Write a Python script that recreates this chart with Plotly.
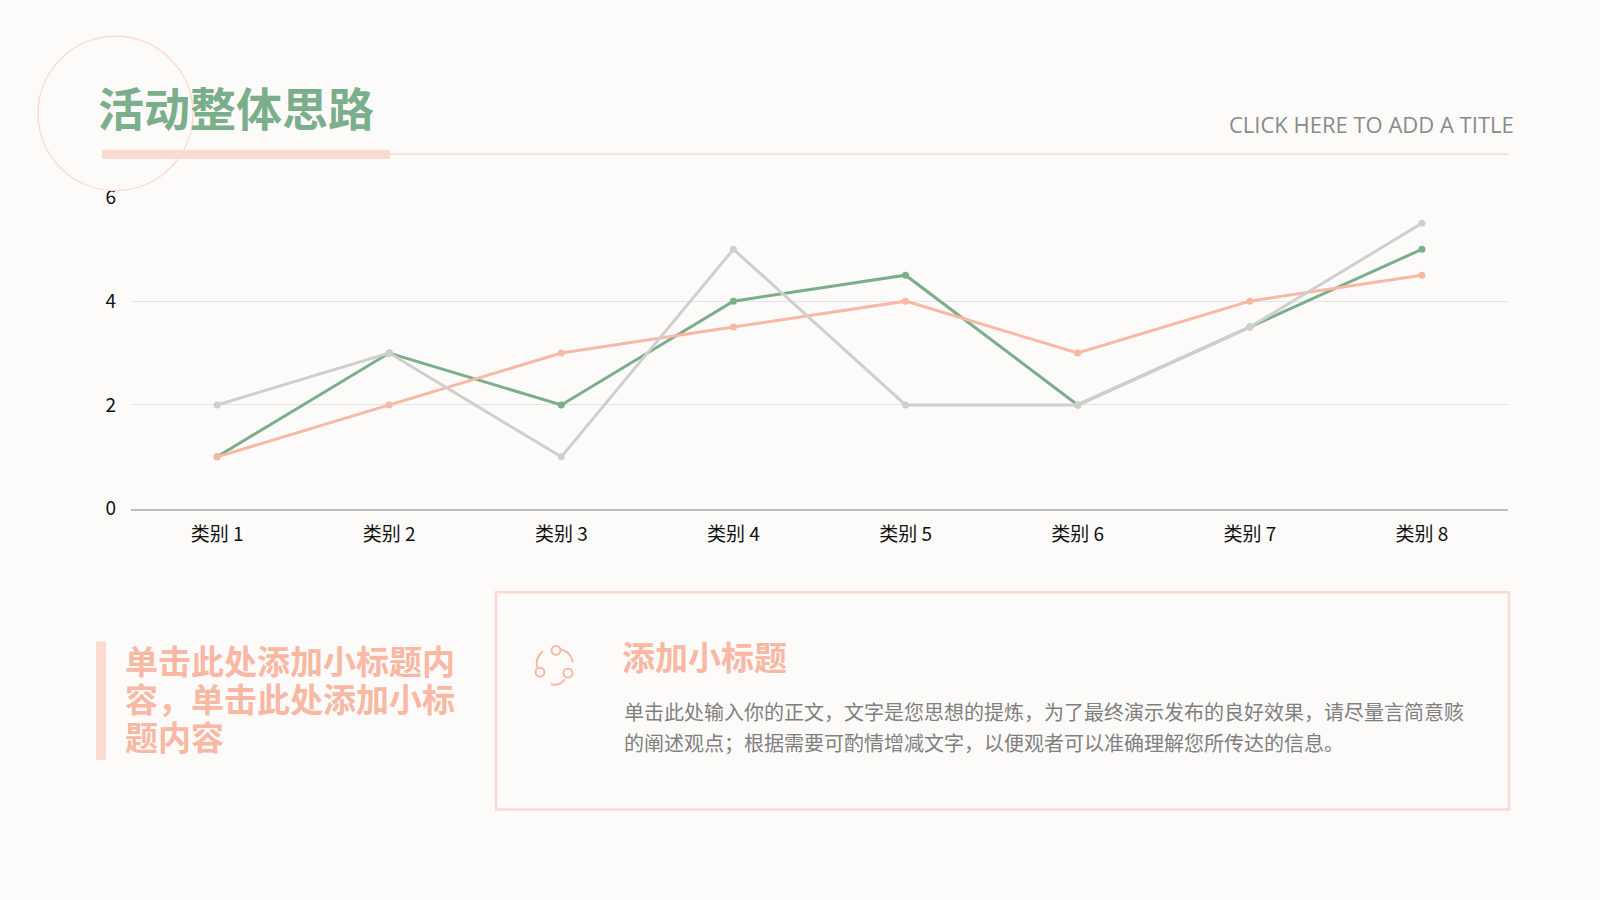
import plotly.graph_objects as go

categories = ['类别 1', '类别 2', '类别 3', '类别 4', '类别 5', '类别 6', '类别 7', '类别 8']
series_green = [1, 3, 2, 4, 4.5, 2, 3.5, 5]
series_orange = [1, 2, 3, 3.5, 4, 3, 4, 4.5]
series_gray = [2, 3, 1, 5, 2, 2, 3.5, 5.5]
y_ticks = [0, 2, 4, 6]

W, H = 1600, 900
GREEN = '#7BAE8B'
ORANGE = '#F8B8A3'
GRAY = '#CFCFCF'
PINK = '#FBDAD2'
CJK = 'Noto Sans CJK SC'


def px(x):
    return x / W


def py(y):
    return 1 - y / H


fig = go.Figure()
for vals, col in [(series_green, GREEN), (series_orange, ORANGE), (series_gray, GRAY)]:
    fig.add_trace(go.Scatter(x=categories, y=vals, mode='lines+markers',
                             line=dict(color=col, width=3),
                             marker=dict(color=col, size=7),
                             showlegend=False, hoverinfo='skip'))

fig.update_layout(
    width=W, height=H,
    margin=dict(l=0, r=0, t=0, b=0),
    paper_bgcolor='#FDFBFA', plot_bgcolor='#FDFBFA',
    font=dict(family=CJK, color='#111111', size=19),
    xaxis=dict(domain=[px(131), px(1508)], range=[-0.5, 7.5], showgrid=False,
               showline=True, linecolor='#BDBDBD', linewidth=1.5, ticks='',
               ticklabelstandoff=8, tickfont=dict(size=19, color='#111111')),
    yaxis=dict(domain=[py(509), py(188)], range=[0, 6], tickvals=y_ticks,
               showgrid=True, gridcolor='#E4E4E4', gridwidth=1.2, zeroline=False,
               ticks='', ticklabelstandoff=14, tickfont=dict(size=19, color='#111111')),
)

shapes = [
    # decorative circle
    dict(type='circle', xref='paper', yref='paper',
         x0=px(38), x1=px(193), y0=py(22), y1=py(181),
         line=dict(color=PINK, width=1.5)),
    # thick bar under title
    dict(type='rect', xref='paper', yref='paper',
         x0=px(102), x1=px(390), y0=py(139), y1=py(148.5),
         fillcolor=PINK, line=dict(width=0)),
    # thin line
    dict(type='line', xref='paper', yref='paper',
         x0=px(390), x1=px(1509), y0=py(143.5), y1=py(143.5),
         line=dict(color=PINK, width=1.5)),
    # left vertical bar
    dict(type='rect', xref='paper', yref='paper',
         x0=px(96), x1=px(106), y0=py(646), y1=py(768),
         fillcolor=PINK, line=dict(width=0)),
    # content box
    dict(type='rect', xref='paper', yref='paper',
         x0=px(496), x1=px(1509), y0=py(595), y1=py(819),
         fillcolor='rgba(0,0,0,0)', line=dict(color=PINK, width=2.5)),
]

# small cycle icon
for cx, cy in [(556, 655), (540, 677.5), (568, 678.5)]:
    shapes.append(dict(type='circle', xref='paper', yref='paper',
                       x0=px(cx - 4.5), x1=px(cx + 4.5), y0=py(cy - 4.6), y1=py(cy + 4.6),
                       line=dict(color=ORANGE, width=2)))
for (x0, y0), (xc, yc), (x1, y1) in [((561, 654), (571, 657), (573, 667.5)),
                                      ((565, 685), (560, 692), (551, 690)),
                                      ((537, 672.5), (535, 662), (543, 656))]:
    shapes.append(dict(type='path', xref='paper', yref='paper',
                       path=f'M {px(x0)} {py(y0)} Q {px(xc)} {py(yc)} {px(x1)} {py(y1)}',
                       line=dict(color=ORANGE, width=2)))
fig.update_layout(shapes=shapes)


def text(x, y, s, size, color, anchor='left', family=CJK, bold=False, box_h=None):
    fig.add_annotation(xref='paper', yref='paper', x=px(x), y=py(y),
                       text=f'<b>{s}</b>' if bold else s, showarrow=False,
                       xanchor=anchor, yanchor='middle', align='left', height=box_h,
                       font=dict(family=family, size=size, color=color))


text(96, 94, '活动整体思路', 46, GREEN, bold=True)
text(1516, 112, 'CLICK HERE TO ADD A TITLE', 22, '#8A8A8A', anchor='right', family='Open Sans')
text(123, 665, '单击此处添加小标题内', 33, ORANGE, bold=True, box_h=38)
text(123, 704, '容，单击此处添加小标', 33, ORANGE, bold=True, box_h=38)
text(123, 743, '题内容', 33, ORANGE, bold=True, box_h=38)
text(620, 661, '添加小标题', 33, ORANGE, bold=True)
text(622, 718.5, '单击此处输入你的正文，文字是您思想的提炼，为了最终演示发布的良好效果，请尽量言简意赅', 20, '#7F7F7F')
text(622, 750, '的阐述观点；根据需要可酌情增减文字，以便观者可以准确理解您所传达的信息。', 20, '#7F7F7F')

fig.write_html('out.html', config={'displayModeBar': False},
               post_script="document.body.style.margin='0';document.body.style.overflow='hidden';")
